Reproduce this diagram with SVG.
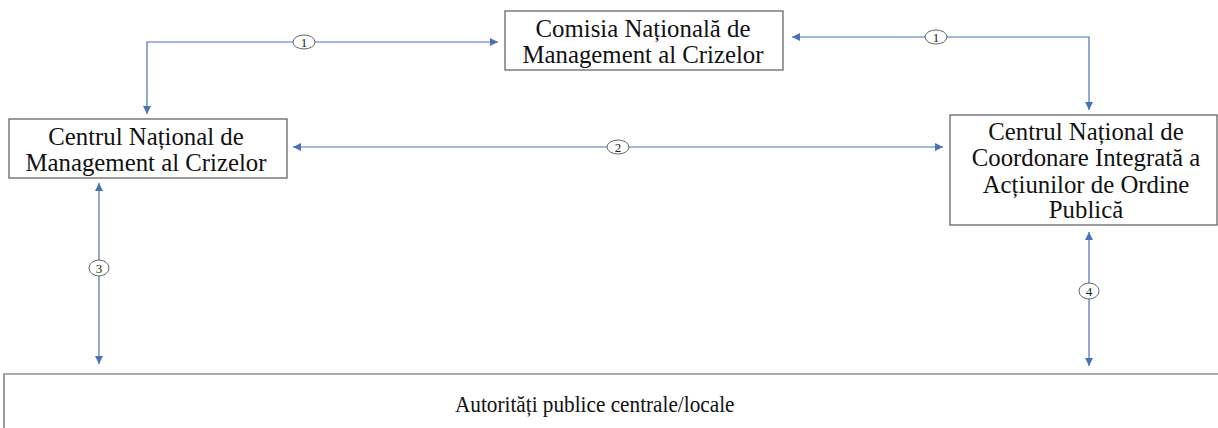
<svg xmlns="http://www.w3.org/2000/svg" width="1218" height="428" viewBox="0 0 1218 428">
<defs>
<marker id="ah" viewBox="0 0 10 10" refX="10" refY="5" markerWidth="8" markerHeight="8" markerUnits="userSpaceOnUse" orient="auto-start-reverse">
<path d="M0,0 L10,5 L0,10 z" fill="#4a72b8"/>
</marker>
<style>
.box{fill:#fff;stroke:#5a5a5a;stroke-width:1.2}
.t{font-family:'Liberation Serif','Times New Roman',Tinos,serif;font-size:24.8px;fill:#111;text-anchor:middle}
.b{font-family:'Liberation Serif','Times New Roman',Tinos,serif;font-size:24px;fill:#111}
.c{stroke:#4a72b8;stroke-width:1.2;fill:none}
.lbl{fill:#fff;stroke:#666;stroke-width:1}
.n{font-family:'Liberation Serif',serif;font-size:13px;fill:#222;text-anchor:middle}
</style>
</defs>
<rect width="1218" height="428" fill="#fff"/>
<g id="connectors">
<path class="c" d="M498,42 H147 V114" marker-start="url(#ah)" marker-end="url(#ah)"/>
<path class="c" d="M792,37 H1089 V110" marker-start="url(#ah)" marker-end="url(#ah)"/>
<path class="c" d="M293,147 H943" marker-start="url(#ah)" marker-end="url(#ah)"/>
<path class="c" d="M99,183 V364" marker-start="url(#ah)" marker-end="url(#ah)"/>
<path class="c" d="M1089,232 V366" marker-start="url(#ah)" marker-end="url(#ah)"/>
<g id="lbl1a"><ellipse class="lbl" cx="304" cy="42" rx="11" ry="7"/><text class="n" x="304" y="46.5">1</text></g>
<g id="lbl1b"><ellipse class="lbl" cx="936" cy="37" rx="11" ry="7"/><text class="n" x="936" y="41.5">1</text></g>
<g id="lbl2"><ellipse class="lbl" cx="618" cy="147" rx="11" ry="7"/><text class="n" x="618" y="151.5">2</text></g>
<g id="lbl3"><ellipse class="lbl" cx="99" cy="268" rx="10" ry="8"/><text class="n" x="99" y="272.5">3</text></g>
<g id="lbl4"><ellipse class="lbl" cx="1089" cy="291" rx="10" ry="8"/><text class="n" x="1089" y="295.5">4</text></g>
</g>
<g id="cnmc">
<rect class="box" x="505" y="11" width="278" height="59"/>
<text class="t" x="643" y="37">Comisia Națională de</text>
<text class="t" x="643" y="63">Management al Crizelor</text>
</g>
<g id="cnmc2">
<rect class="box" x="9" y="119" width="278" height="59"/>
<text class="t" x="146" y="145">Centrul Național de</text>
<text class="t" x="146" y="171">Management al Crizelor</text>
</g>
<g id="cnciaop">
<rect class="box" x="950" y="115" width="267" height="110"/>
<text class="t" x="1086" y="140">Centrul Național de</text>
<text class="t" x="1086" y="166">Coordonare Integrată a</text>
<text class="t" x="1086" y="193">Acțiunilor de Ordine</text>
<text class="t" x="1086" y="218">Publică</text>
</g>
<g id="apcl">
<path class="box" d="M4,430 V374 H1220"/>
<text class="b" transform="translate(455,412) scale(0.885,1)" x="0" y="0">Autorități publice centrale/locale</text>
</g>
</svg>
